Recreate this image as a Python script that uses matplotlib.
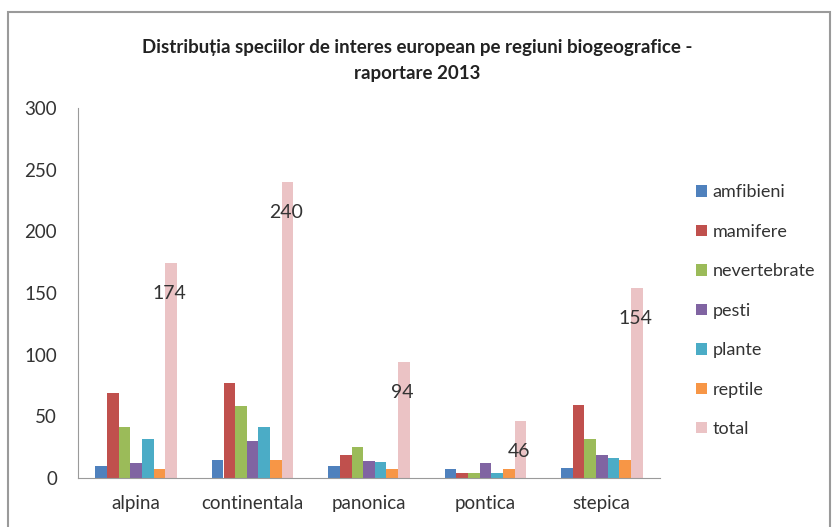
import numpy as np
import matplotlib
matplotlib.use("Agg")
import matplotlib.pyplot as plt
from matplotlib.patches import Rectangle

plt.rcParams['font.family'] = ['Lato', 'DejaVu Sans']

regiuni = ['alpina', 'continentala', 'panonica', 'pontica', 'stepica']
serii = ['amfibieni', 'mamifere', 'nevertebrate', 'pesti', 'plante', 'reptile', 'total']
amfibieni = [10, 15, 10, 7, 8]
mamifere = [69, 77, 19, 4, 59]
nevertebrate = [41, 58, 25, 4, 32]
pesti = [12, 30, 14, 12, 19]
plante = [32, 41, 13, 4, 16]
reptile = [7, 15, 7, 7, 15]
total = [174, 240, 94, 46, 154]

valori = [amfibieni, mamifere, nevertebrate, pesti, plante, reptile, total]
culori = ['#4F81BD', '#C0504D', '#9BBB59', '#8064A2', '#4BACC6', '#F79646', '#EBC3C5']

fig = plt.figure(figsize=(8.35, 5.27), dpi=100)
# chenarul graficului
fig.patches.append(Rectangle((8/835, -0.01), 822/835, 1 - 12/527 + 0.01, transform=fig.transFigure,
                             fill=False, edgecolor='#9a9a9a', linewidth=1.5))
ax = fig.add_axes([78/835, 1 - 478/527, (660-78)/835, (478-108)/527])

x = np.arange(len(regiuni))
w = 0.1
for i, (nume, v) in enumerate(zip(serii, valori)):
    ax.bar(x + (i - 3) * w, v, width=w, color=culori[i], label=nume)

for xi, t in zip(x, total):
    ax.annotate(str(t), (xi + 3 * w, t), xytext=(-1, -22), textcoords='offset points',
                ha='center', va='center', fontsize=14, color='#333333')

ax.set_xlim(-0.5, len(regiuni) - 0.5)
ax.set_ylim(0, 300)
ax.set_yticks(range(0, 301, 50))
ax.set_xticks(x)
ax.set_xticklabels(regiuni)
ax.tick_params(axis='x', length=0, labelsize=13.5, colors='#333333', pad=12)
ax.tick_params(axis='y', length=0, labelsize=13.5, colors='#333333', pad=15)
for s in ['top', 'right']:
    ax.spines[s].set_visible(False)
for s in ['left', 'bottom']:
    ax.spines[s].set_color('#9a9a9a')

fig.text(0.5, 1 - 47/527, 'Distribuția speciilor de interes european pe regiuni biogeografice -',
         ha='center', va='center', fontsize=13.5, fontweight='bold', color='#222222')
fig.text(0.5, 1 - 74/527, 'raportare 2013', ha='center', va='center',
         fontsize=13.5, fontweight='bold', color='#222222')

ax.legend(loc='upper left', bbox_to_anchor=(680/835, 1 - 168/527), bbox_transform=fig.transFigure,
          frameon=False, fontsize=13, handlelength=0.6, handleheight=0.6, handletextpad=0.3,
          labelspacing=1.3, labelcolor='#333333')

fig.savefig('out.png', dpi=100)
